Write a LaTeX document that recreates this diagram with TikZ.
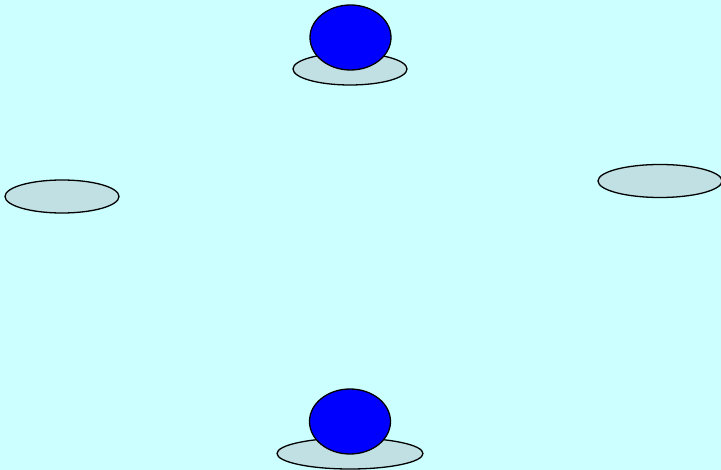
\documentclass[tikz,border=0pt]{standalone}
\usetikzlibrary{shapes.geometric}
\definecolor{bgcyan}{RGB}{204,255,255}
\definecolor{platecol}{RGB}{192,224,228}

\begin{document}
\begin{tikzpicture}[
  x=1pt, y=-1pt,
  plate/.style={ellipse, draw, fill=platecol, line width=1.3pt, inner sep=0pt, minimum height=32pt},
  ball/.style={ellipse, draw, fill=blue, line width=1.3pt, inner sep=0pt, minimum width=81pt, minimum height=65pt}
]
  \fill[bgcyan] (0,0) rectangle (721,470);
  \useasboundingbox (0,0) rectangle (721,470);
  % plates
  \node[plate, minimum width=114pt] (plateN) at (350,69) {};
  \node[plate, minimum width=114pt, minimum height=33pt] (plateW) at (62,196.5) {};
  \node[plate, minimum width=124pt, minimum height=33pt] (plateE) at (660,181) {};
  \node[plate, minimum width=146pt, minimum height=31pt] (plateS) at (350,453.5) {};
  % balls
  \node[ball] (ballN) at (350.5,37.5) {};
  \node[ball] (ballS) at (350,421.5) {};
\end{tikzpicture}
\end{document}
